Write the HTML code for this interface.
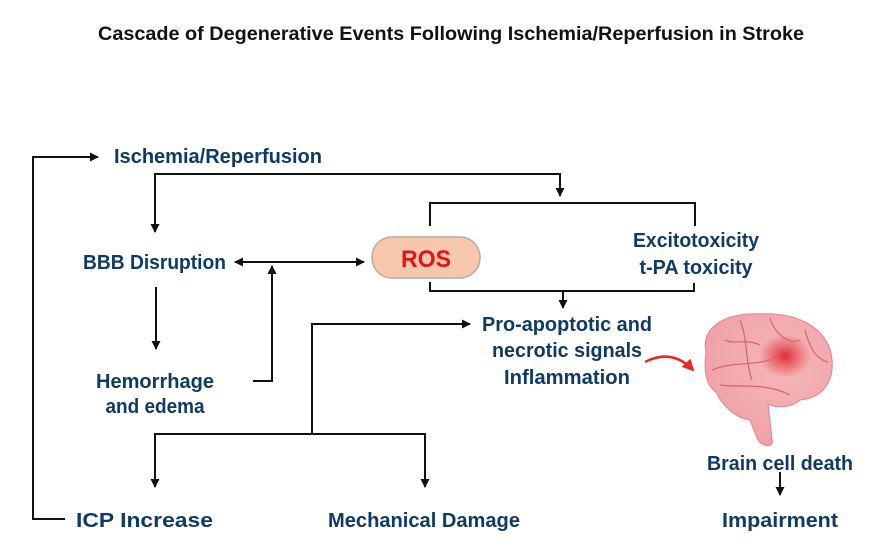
<!DOCTYPE html>
<html><head><meta charset="utf-8"><style>
html,body{margin:0;padding:0;background:#fff}
svg{display:block}
text{font-family:"Liberation Sans",sans-serif;font-weight:bold}
.b{fill:#0f3a64;font-size:20px}
</style></head><body>
<svg width="874" height="555" viewBox="0 0 874 555" xmlns="http://www.w3.org/2000/svg">
<defs>
<marker id="a" markerWidth="9" markerHeight="9" refX="8" refY="4.5" orient="auto" markerUnits="userSpaceOnUse"><path d="M0,0 L9,4.5 L0,9 z" fill="#111"/></marker>
<marker id="r" markerWidth="12" markerHeight="12" refX="10" refY="6" orient="auto" markerUnits="userSpaceOnUse"><path d="M0,0 L12,6 L0,12 z" fill="#e8262b"/></marker>
<radialGradient id="bg" cx="0.6" cy="0.4" r="0.6"><stop offset="0" stop-color="#f6b7b9"/><stop offset="1" stop-color="#efa3a8"/></radialGradient>
<radialGradient id="hs" cx="0.5" cy="0.5" r="0.5"><stop offset="0" stop-color="#e0303a"/><stop offset="1" stop-color="#e0303a" stop-opacity="0"/></radialGradient>
</defs>
<text x="451" y="40" text-anchor="middle" style="font-size:19px;fill:#111" textLength="706" lengthAdjust="spacingAndGlyphs">Cascade of Degenerative Events Following Ischemia/Reperfusion in Stroke</text>

<g stroke="#111" stroke-width="2" fill="none">
<path d="M65,519 H33 V157 H98" marker-end="url(#a)"/>
<path d="M155,232 V174 H560 V196" marker-end="url(#a)"/>
<path d="M155,174 V232" marker-end="url(#a)"/>
<path d="M244,262 H364" marker-end="url(#a)"/>
<path d="M300,262 H235" marker-end="url(#a)"/>
<path d="M253,381 H272 V266" marker-end="url(#a)"/>
<path d="M156,287 V349" marker-end="url(#a)"/>
<path d="M430,226 V203 H695 V226"/>
<path d="M430,282 V291 H694 V283"/>
<path d="M563,291 V308" marker-end="url(#a)"/>
<path d="M312,434 V324 H470" marker-end="url(#a)"/>
<path d="M155,487 V434 H425 V487" marker-end="url(#a)"/>
<path d="M155,434 V487" marker-end="url(#a)"/>
<path d="M780,472 V495" marker-end="url(#a)"/>
</g>
<path d="M645,362 Q672,348 693,370" stroke="#e8262b" stroke-width="2.5" fill="none" marker-end="url(#r)"/>

<rect x="372" y="237" width="108" height="41" rx="20" fill="#f7c7ad" stroke="#b9aaa2" stroke-width="1.5"/>
<text x="426" y="267" text-anchor="middle" style="font-size:24px;fill:#e3141b" textLength="50" lengthAdjust="spacingAndGlyphs">ROS</text>

<text class="b" x="114" y="163" textLength="208" lengthAdjust="spacingAndGlyphs">Ischemia/Reperfusion</text>
<text class="b" x="83" y="269" textLength="143" lengthAdjust="spacingAndGlyphs">BBB Disruption</text>
<text class="b" x="155" y="388" text-anchor="middle" textLength="118" lengthAdjust="spacingAndGlyphs">Hemorrhage</text>
<text class="b" x="155" y="413" text-anchor="middle" textLength="99" lengthAdjust="spacingAndGlyphs">and edema</text>
<text class="b" x="696" y="247" text-anchor="middle" textLength="126" lengthAdjust="spacingAndGlyphs">Excitotoxicity</text>
<text class="b" x="696" y="274" text-anchor="middle" textLength="113" lengthAdjust="spacingAndGlyphs">t-PA toxicity</text>
<text class="b" x="567" y="331" text-anchor="middle" textLength="170" lengthAdjust="spacingAndGlyphs">Pro-apoptotic and</text>
<text class="b" x="567" y="357" text-anchor="middle" textLength="150" lengthAdjust="spacingAndGlyphs">necrotic signals</text>
<text class="b" x="567" y="384" text-anchor="middle" textLength="126" lengthAdjust="spacingAndGlyphs">Inflammation</text>
<text class="b" x="76" y="527" textLength="137" lengthAdjust="spacingAndGlyphs">ICP Increase</text>
<text class="b" x="328" y="527" textLength="192" lengthAdjust="spacingAndGlyphs">Mechanical Damage</text>
<text class="b" x="780" y="470" text-anchor="middle" textLength="146" lengthAdjust="spacingAndGlyphs">Brain cell death</text>
<text class="b" x="780" y="527" text-anchor="middle" textLength="116" lengthAdjust="spacingAndGlyphs">Impairment</text>

<g>
<path d="M706,352 C700,325 730,312 760,314 C800,312 830,330 832,360 C834,385 820,398 800,400 C792,408 775,408 768,404 L772,440 C774,447 764,448 758,440 L750,420 C735,418 722,405 716,392 C705,385 704,368 706,352 z" fill="url(#bg)" stroke="#e58a92" stroke-width="1.2"/>
<ellipse cx="785" cy="356" rx="26" ry="22" fill="url(#hs)"/>
<g stroke="#d9616c" stroke-width="1.2" fill="none">
<path d="M712,370 C735,360 760,368 780,355"/>
<path d="M740,320 C748,340 745,360 752,380"/>
<path d="M770,318 C775,335 790,345 800,340"/>
<path d="M720,385 C740,388 765,382 790,395"/>
<path d="M805,330 C810,350 818,360 828,362"/>
<path d="M725,340 C735,345 745,338 760,345"/>
</g>
</g>
</svg>
</body></html>
